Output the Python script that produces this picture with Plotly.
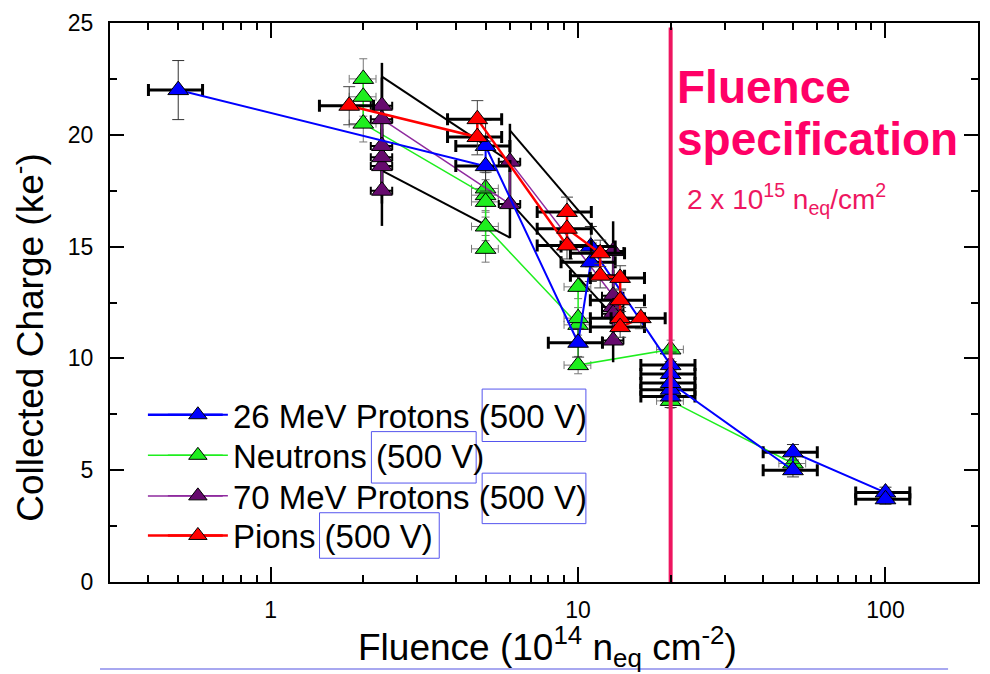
import plotly.graph_objects as go

# ---------------- data ----------------
# 26 MeV protons (500 V)
p26_x = [0.5, 5, 5, 10, 11, 11, 20, 20, 20, 20, 20, 50, 50, 100, 100]
p26_y = [22.0, 18.6, 19.5, 10.7, 14.3, 15.0, 9.7, 9.3, 8.3, 8.6, 8.9, 5.0, 5.8, 4.0, 3.7]

# Neutrons (500 V)
neu_x = [2, 2, 2, 5, 5, 5, 5, 5, 10, 10, 10, 10, 20, 20, 50]
neu_y = [22.5, 21.7, 20.5, 17.3, 17.6, 17.0, 14.9, 15.9, 11.5, 13.2, 11.8, 9.7, 10.4, 8.1, 5.3]

# 70 MeV protons (500 V)
p70_x = [2.3, 2.3, 2.3, 2.3, 2.3, 2.3, 6, 6, 13, 13, 13, 13, 13]
p70_y = [17.5, 18.6, 19.0, 19.5, 21.3, 20.7, 16.9, 18.8, 12.8, 14.8, 12.3, 12.0, 10.8]

# Pions (500 V)
pion_x = [1.8, 4.7, 4.7, 9.2, 9.2, 9.2, 11.8, 11.8, 13.7, 13.7, 13.7, 13.7, 16]
pion_y = [21.3, 19.9, 20.7, 15.05, 16.55, 15.8, 14.7, 13.7, 13.6, 12.6, 11.8, 11.4, 11.8]

# black envelope lines (70 MeV protons band)
band_x = [2.3, 6, None, 2.3, 6, None, 6, 13, None, 6, 13]
band_y = [22.6, 18.8, None, 18.4, 15.4, None, 20.2, 14.8, None, 17.0, 11.9]

# fluence specification
spec_x = [20, 20]
spec_y = [0, 24.8]

x_tickvals = [1, 10, 100]
x_ticktext = ["1", "10", "100"]
x_minor = [0.3, 0.4, 0.5, 0.6, 0.7, 0.8, 0.9, 2, 3, 4, 5, 6, 7, 8, 9,
           20, 30, 40, 50, 60, 70, 80, 90, 200]
y_tickvals = [0, 5, 10, 15, 20, 25]

series_names = ["26 MeV Protons (500 V)", "Neutrons (500 V)",
                "70 MeV Protons (500 V)", "Pions (500 V)"]

FONT = "Liberation Sans, Arial, sans-serif"
MS = 18


def px_x(p):
    return (p - 110) / 870.0


def px_y(p):
    return (582 - p) / 565.0


fig = go.Figure()

fig.add_trace(go.Scatter(x=band_x, y=band_y, mode="lines",
                         line=dict(color="black", width=2),
                         showlegend=False, hoverinfo="skip"))

GREEN = "#1EEE1E"
PURPLE_M = "#660A6E"
PURPLE_L = "#8E2A9E"

fig.add_trace(go.Scatter(
    x=neu_x, y=neu_y, mode="lines+markers", name=series_names[1],
    legend="legend2",
    line=dict(color=GREEN, width=1.5),
    marker=dict(symbol="triangle-up", size=MS, color=GREEN,
                line=dict(color="black", width=1)),
    error_x=dict(type="percent", value=10, color="#777777", thickness=1, width=4),
    error_y=dict(type="percent", value=4, color="#777777", thickness=1, width=4)))

fig.add_trace(go.Scatter(
    x=p70_x, y=p70_y, mode="lines+markers", name=series_names[2],
    legend="legend3",
    line=dict(color=PURPLE_L, width=1.5),
    marker=dict(symbol="triangle-up", size=MS, color=PURPLE_M,
                line=dict(color="black", width=1)),
    error_x=dict(type="percent", value=8, color="black", thickness=2, width=4),
    error_y=dict(type="percent", value=9, color="black", thickness=2.5, width=0)))

fig.add_trace(go.Scatter(
    x=p26_x, y=p26_y, mode="lines+markers", name=series_names[0],
    legend="legend",
    line=dict(color="#0000FF", width=2),
    marker=dict(symbol="triangle-up", size=MS, color="#0000FF",
                line=dict(color="black", width=1)),
    error_x=dict(type="percent", value=20, color="black", thickness=3, width=6),
    error_y=dict(type="percent", value=6, color="#333333", thickness=1, width=6)))

fig.add_trace(go.Scatter(
    x=pion_x, y=pion_y, mode="lines+markers", name=series_names[3],
    legend="legend4",
    line=dict(color="#FF0000", width=2.5),
    marker=dict(symbol="triangle-up", size=MS, color="#FF0000",
                line=dict(color="black", width=1)),
    error_x=dict(type="percent", value=20, color="black", thickness=3, width=6),
    error_y=dict(type="percent", value=4, color="#444444", thickness=1, width=6)))

fig.add_trace(go.Scatter(x=spec_x, y=spec_y, mode="lines",
                         line=dict(color="#EE1660", width=4),
                         showlegend=False, hoverinfo="skip"))

annotations = [
    dict(text="Fluence", x=px_x(676), y=px_y(82), xref="paper", yref="paper",
         xanchor="left", yanchor="middle", showarrow=False,
         font=dict(family=FONT, size=46, color="#FF0066", weight="bold")),
    dict(text="specification", x=px_x(676), y=px_y(134), xref="paper", yref="paper",
         xanchor="left", yanchor="middle", showarrow=False,
         font=dict(family=FONT, size=46, color="#FF0066", weight="bold")),
    dict(text="2 x 10<sup>15</sup> n<sub>eq</sub>/cm<sup>2</sup>",
         x=px_x(686), y=px_y(195), xref="paper", yref="paper",
         xanchor="left", yanchor="middle", showarrow=False,
         font=dict(family=FONT, size=28, color="#EE1660")),
    dict(text="Collected Charge (ke<sup>-</sup>)", x=px_x(28), y=px_y(335),
         xref="paper", yref="paper", textangle=-90, showarrow=False,
         xanchor="center", yanchor="middle",
         font=dict(family=FONT, size=37, color="black")),
    dict(text="Fluence (10<sup>14</sup> n<sub>eq</sub> cm<sup>-2</sup>)",
         x=px_x(549), y=px_y(647), xref="paper", yref="paper", showarrow=False,
         xanchor="center", yanchor="middle",
         font=dict(family=FONT, size=37, color="black")),
]

# legend rows (pixel centres) and legend line extensions
row_y = [413, 454, 495, 535]
row_col = ["#0000FF", GREEN, PURPLE_L, "#FF0000"]
row_w = [2.5, 1.5, 1.5, 2.5]

box_line = dict(color="#5555EE", width=1)
shapes = [
    dict(type="rect", xref="paper", yref="paper", x0=px_x(483), x1=px_x(587),
         y0=px_y(440), y1=px_y(387), line=box_line),
    dict(type="rect", xref="paper", yref="paper", x0=px_x(372), x1=px_x(477),
         y0=px_y(482), y1=px_y(430), line=box_line),
    dict(type="rect", xref="paper", yref="paper", x0=px_x(483), x1=px_x(587),
         y0=px_y(523), y1=px_y(472), line=box_line),
    dict(type="rect", xref="paper", yref="paper", x0=px_x(320), x1=px_x(440),
         y0=px_y(558), y1=px_y(512), line=box_line),
    dict(type="line", xref="paper", yref="paper", x0=px_x(100), x1=px_x(950),
         y0=px_y(670), y1=px_y(670), line=dict(color="#A8A8F0", width=2)),
]
for ry, rc, rw in zip(row_y, row_col, row_w):
    shapes.append(dict(type="line", xref="paper", yref="paper",
                       x0=px_x(148), x1=px_x(223), y0=px_y(ry), y1=px_y(ry),
                       line=dict(color=rc, width=rw), layer="below"))

legend_common = dict(xanchor="left", yanchor="middle",
                     font=dict(family=FONT, size=33, color="black"),
                     bgcolor="rgba(0,0,0,0)", borderwidth=0,
                     itemsizing="trace", itemwidth=60)

fig.update_layout(
    width=990, height=674,
    margin=dict(l=110, r=10, t=17, b=92),
    paper_bgcolor="white", plot_bgcolor="white",
    font=dict(family=FONT, size=22, color="black"),
    showlegend=True,
    legend=dict(x=px_x(163), y=px_y(row_y[0]), **legend_common),
    legend2=dict(x=px_x(163), y=px_y(row_y[1]), **legend_common),
    legend3=dict(x=px_x(163), y=px_y(row_y[2]), **legend_common),
    legend4=dict(x=px_x(163), y=px_y(row_y[3]), **legend_common),
    annotations=annotations,
    shapes=shapes,
)

fig.update_xaxes(
    type="log", range=[-0.523, 2.301],
    tickvals=x_tickvals, ticktext=x_ticktext,
    ticks="inside", ticklen=15, tickwidth=2, tickcolor="black",
    minor=dict(tickvals=x_minor, ticks="inside", ticklen=7, tickwidth=2,
               tickcolor="black", showgrid=False),
    showline=True, linewidth=2, linecolor="black", mirror="ticks",
    showgrid=False, zeroline=False,
    tickfont=dict(family=FONT, size=23, color="black"),
    ticklabelstandoff=6,
)
fig.update_yaxes(
    range=[0, 25], tickvals=y_tickvals,
    ticks="inside", ticklen=14, tickwidth=2, tickcolor="black",
    minor=dict(dtick=2.5, ticks="inside", ticklen=7, tickwidth=2,
               tickcolor="black", showgrid=False),
    showline=True, linewidth=2, linecolor="black", mirror="ticks",
    showgrid=False, zeroline=False,
    tickfont=dict(family=FONT, size=23, color="black"),
    ticklabelstandoff=10,
)

fig.write_html("out.html")
